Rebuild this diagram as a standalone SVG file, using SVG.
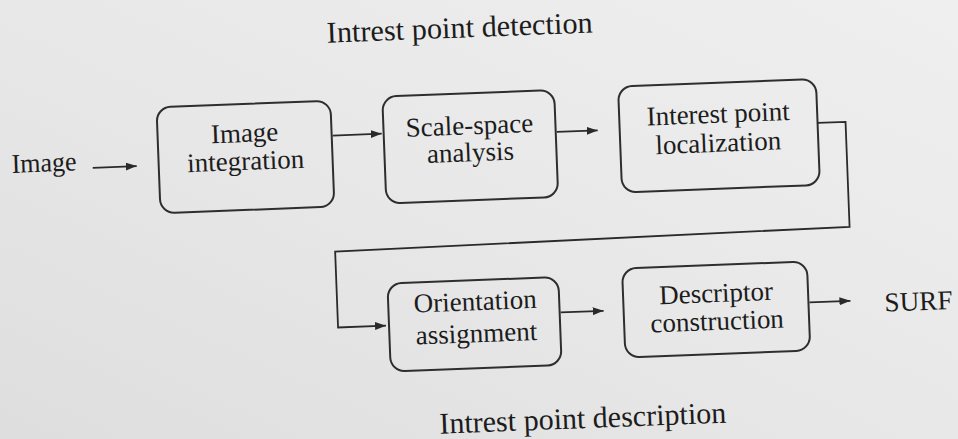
<svg xmlns="http://www.w3.org/2000/svg" width="958" height="439" viewBox="0 0 958 439">
  <defs>
    <linearGradient id="paper" x1="0" y1="1" x2="1" y2="0">
      <stop offset="0" stop-color="#dedede"/>
      <stop offset="0.5" stop-color="#e8e8e8"/>
      <stop offset="1" stop-color="#efefef"/>
    </linearGradient>
    <marker id="arrow" markerUnits="userSpaceOnUse" markerWidth="12" markerHeight="9" refX="11" refY="4" orient="auto">
      <path d="M0,0 L11,4 L0,8 z" fill="#2a2a2a"/>
    </marker>
    <style>
      text { font-family: "Liberation Serif", "Times New Roman", serif; fill: #1c1c1c; }
      .box { fill: none; stroke: #2e2e2e; stroke-width: 2; }
      .lbl { font-size: 27px; text-anchor: middle; }
      .cap { font-size: 30px; text-anchor: middle; }
      .io { font-size: 27px; }
      .conn { fill: none; stroke: #2a2a2a; stroke-width: 1.8; }
    </style>
  </defs>

  <rect width="958" height="439" fill="url(#paper)"/>

  <!-- whole sheet sits slightly tilted -->
  <g transform="rotate(-2.2 479 219)">
    <text class="cap" x="467" y="37" textLength="266" lengthAdjust="spacingAndGlyphs">Intrest point detection</text>

    <g id="input">
      <text class="io" x="14" y="155" textLength="65" lengthAdjust="spacingAndGlyphs">Image</text>
    </g>

    <g id="image-integration">
      <rect class="box" x="161" y="95" width="174" height="106" rx="14"/>
      <text class="lbl" x="248" y="133">Image</text>
      <text class="lbl" x="248" y="161">integration</text>
    </g>

    <g id="scale-space">
      <rect class="box" x="387" y="93" width="172" height="107" rx="14"/>
      <text class="lbl" x="473" y="134">Scale-space</text>
      <text class="lbl" x="473" y="161">analysis</text>
    </g>

    <g id="localization">
      <rect class="box" x="623" y="92" width="198" height="106" rx="14"/>
      <text class="lbl" x="722" y="132">Interest point</text>
      <text class="lbl" x="721" y="161">localization</text>
    </g>

    <g id="orientation">
      <rect class="box" x="385" y="280" width="171" height="88" rx="14"/>
      <text class="lbl" x="472" y="310">Orientation</text>
      <text class="lbl" x="472" y="342">assignment</text>
    </g>

    <g id="descriptor">
      <rect class="box" x="620" y="274" width="185" height="89" rx="14"/>
      <text class="lbl" x="713" y="311">Descriptor</text>
      <text class="lbl" x="713" y="339">construction</text>
    </g>

    <g id="output">
      <text class="io" x="881" y="327" textLength="68" lengthAdjust="spacingAndGlyphs">SURF</text>
    </g>

    <g id="connectors">
      <line class="conn" x1="95" y1="153" x2="139" y2="153" marker-end="url(#arrow)"/>
      <line class="conn" x1="336" y1="130" x2="385" y2="130" marker-end="url(#arrow)"/>
      <line class="conn" x1="560" y1="135" x2="601" y2="135" marker-end="url(#arrow)"/>
      <polyline class="conn" points="821,136 849,136 849,241 334,246 334,322 382,322" marker-end="url(#arrow)"/>
      <line class="conn" x1="557" y1="315.5" x2="600" y2="315.5" marker-end="url(#arrow)"/>
      <line class="conn" x1="806" y1="315" x2="847" y2="315" marker-end="url(#arrow)"/>
    </g>

    <text class="cap" x="575" y="432" textLength="287" lengthAdjust="spacingAndGlyphs">Intrest point description</text>
  </g>
</svg>
